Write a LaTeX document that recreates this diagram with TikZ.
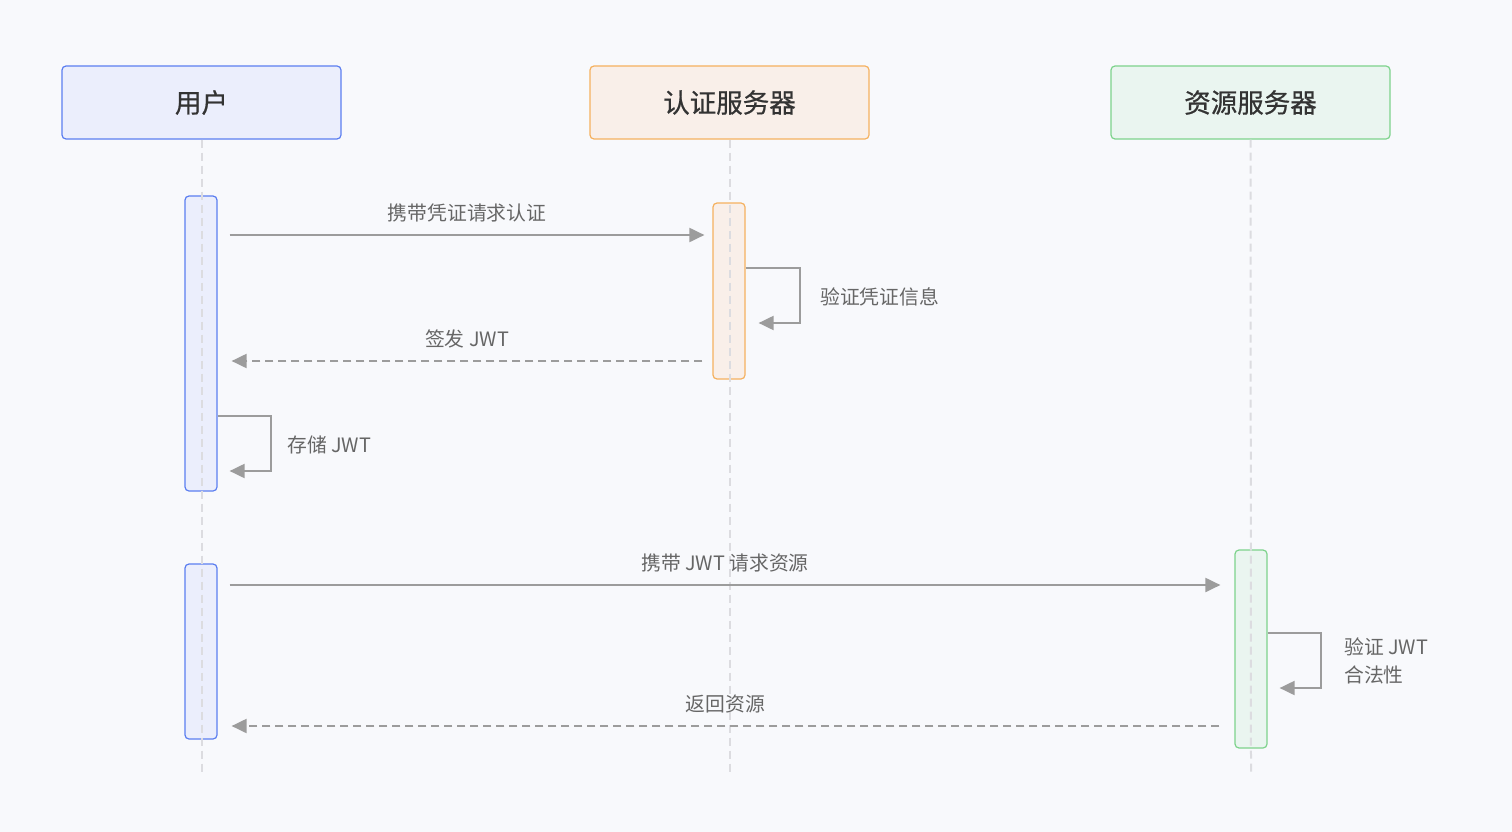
\documentclass[tikz,border=0pt]{standalone}
\usepackage{fontspec}
\setmainfont{Noto Sans CJK SC}
\newfontfamily\hdrfont[FakeBold=0.7]{Noto Sans CJK SC}
\usetikzlibrary{arrows.meta,calc}
\definecolor{bg}{HTML}{F8F9FC}
\definecolor{ublue}{HTML}{5B7EF0}
\definecolor{ufill}{HTML}{EBEEFC}
\definecolor{aorange}{HTML}{F5B15F}
\definecolor{afill}{HTML}{F9EFE9}
\definecolor{rgreen}{HTML}{7DD38C}
\definecolor{rfill}{HTML}{EAF5F0}
\definecolor{msgc}{HTML}{9C9C9C}
\definecolor{lifec}{HTML}{DCDCE0}
\definecolor{hdrtext}{HTML}{333333}
\definecolor{lbltext}{HTML}{666666}
\tikzset{
  hdrbox/.style={draw, line width=1.2pt, rounded corners=4pt, minimum width=279pt, minimum height=73pt, inner sep=0pt, text=hdrtext, font=\hdrfont\fontsize{26.5}{30}\selectfont},
  actbox/.style={draw, line width=1.2pt, rounded corners=4pt, minimum width=32pt, inner sep=0pt},
  lifeline/.style={draw=lifec, line width=2pt, dash pattern=on 8pt off 5pt},
  msg/.style={draw=msgc, line width=2pt, -{Triangle[length=15pt,width=14pt]}},
  reply/.style={msg, dash pattern=on 8pt off 5pt},
  lbl/.style={text=lbltext, font=\fontsize{19.8}{25}\selectfont, inner sep=0pt}
}
\begin{document}
\begin{tikzpicture}[x=1pt,y=-1pt]
\fill[bg] (0,0) rectangle (1512,832);
\useasboundingbox (0,0) rectangle (1512,832);
% headers
\node[hdrbox, draw=ublue, fill=ufill] (user) at (201.5,102.5) {用户};
\node[hdrbox, draw=aorange, fill=afill] (auth) at (729.5,102.5) {认证服务器};
\node[hdrbox, draw=rgreen, fill=rfill] (res) at (1250.5,102.5) {资源服务器};
% activation boxes
\node[actbox, draw=ublue, fill=ufill, minimum height=295pt] (ua1) at (201,343.5) {};
\node[actbox, draw=ublue, fill=ufill, minimum height=175pt] (ua2) at (201,651.5) {};
\node[actbox, draw=aorange, fill=afill, minimum height=176pt] (aa) at (729,291) {};
\node[actbox, draw=rgreen, fill=rfill, minimum height=198pt] (ra) at (1251,649) {};
% lifelines
\coordinate (uend) at (201.5,776);
\coordinate (aend) at (729.5,776);
\coordinate (rend) at (1251,776);
\draw[lifeline] (user.south) -- (uend);
\draw[lifeline] (auth.south) -- (aend);
\draw[lifeline] (res.south) -- (rend);
% message 1
\draw[msg] ($(ua1.east |- 0,235)+(12,0)$) -- node[lbl, above=12pt] (l1) {携带凭证请求认证} ($(aa.west |- 0,235)+(-8,0)$);
% self loop auth
\draw[msg] (aa.east |- 0,268) -- ++(54,0) -- ++(0,55) -- ($(aa.east |- 0,323)+(13,0)$);
\node[lbl, anchor=west] (l2) at (820,297) {验证凭证信息};
% reply 1
\draw[reply] ($(aa.west |- 0,361)+(-10,0)$) -- node[lbl, above=12pt] (l3) {签发 JWT} ($(ua1.east |- 0,361)+(14,0)$);
% self loop user
\draw[msg] (ua1.east |- 0,416) -- ++(53,0) -- ++(0,55) -- ($(ua1.east |- 0,471)+(12,0)$);
\node[lbl, anchor=west] (l4) at (287,445) {存储 JWT};
% message 2
\draw[msg] ($(ua2.east |- 0,585)+(12,0)$) -- node[lbl, above=12pt] (l5) {携带 JWT 请求资源} ($(ra.west |- 0,585)+(-14,0)$);
% self loop resource
\draw[msg] (ra.east |- 0,633) -- ++(53,0) -- ++(0,55) -- ($(ra.east |- 0,688)+(12,0)$);
\node[lbl, anchor=west, align=left, font=\fontsize{19.8}{28}\selectfont] (l6) at (1344,661) {验证 JWT\\合法性};
% reply 2
\draw[reply] ($(ra.west |- 0,726)+(-15,0)$) -- node[lbl, above=12pt] (l7) {返回资源} ($(ua2.east |- 0,726)+(14,0)$);
\end{tikzpicture}
\end{document}
